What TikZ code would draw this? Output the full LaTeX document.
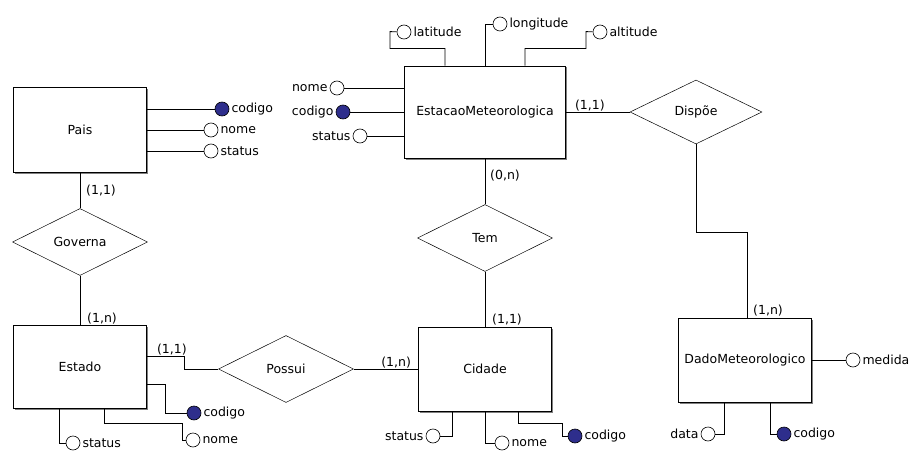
\documentclass[tikz,border=0pt]{standalone}
\usepackage{fontspec}
\setmainfont{DejaVu Sans}
\usetikzlibrary{calc, positioning}
\usetikzlibrary{shapes.geometric}
\usetikzlibrary{shadows}
\definecolor{chave}{RGB}{46,46,140}

\tikzset{
  entity/.style={draw, thick, fill=white, rectangle, minimum width=133pt, minimum height=84pt, inner sep=0pt,
    drop shadow={shadow xshift=1.5pt, shadow yshift=-1.5pt, fill=black, opacity=0.5}},
  relation/.style={draw, line width=0.5pt, diamond, aspect=2, minimum width=135pt, minimum height=67pt, inner sep=0pt},
  attr/.style={draw, circle, line width=0.6pt, minimum size=14pt, inner sep=0pt, fill=white},
  keyattr/.style={attr, fill=chave},
  lbl/.style={inner sep=1pt},
  card/.style={inner sep=1pt},
  link/.style={line width=0.8pt}
}

\begin{document}
\begin{tikzpicture}[x=1pt, y=-1pt, font=\fontsize{12.5}{14}\selectfont]
\useasboundingbox (0,0) rectangle (913,452);

% entidades
\node[entity, minimum height=85pt] (pais) at (80,130) {Pais};
\node[entity, minimum height=83pt] (estado) at (80,367) {Estado};
\node[entity] (cidade) at (485,369) {Cidade};
\node[entity, minimum width=161pt, minimum height=92pt] (estacao) at (485,112) {EstacaoMeteorologica};
\node[entity] (dado) at (745,360) {DadoMeteorologico};

% relacionamentos
\node[relation] (governa) at (80,242) {Governa};
\node[relation] (possui) at (286,369) {Possui};
\node[relation] (tem) at (485,238) {Tem};
\node[relation, minimum width=132pt, minimum height=64pt] (dispoe) at (696,112) {Disp\~oe};

% ligacoes
\draw[link] (pais) -- (governa);
\draw[link] (governa) -- (estado);
\draw[link] ([yshift=11pt]estado.east) -- ++(37,0) |- (possui.west);
\draw[link] (possui.east) -- (possui.east -| cidade.west);
\draw[link] (estacao) -- (tem);
\draw[link] (tem) -- (cidade);
\draw[link] (estacao.east) -- (dispoe.west);
\draw[link] (dispoe.south) -- ++(0,88) -| ([xshift=2pt]dado.north);

% cardinalidades
\node[card, anchor=west] at ([xshift=5pt, yshift=-18pt]pais.south) {(1,1)};
\node[card, anchor=south west] at ([xshift=6pt]estado.north) {(1,n)};
\node[card, anchor=south west] at ([xshift=9pt, yshift=11pt]estado.east) {(1,1)};
\node[card, anchor=south east] at ([xshift=-6pt]cidade.west) {(1,n)};
\node[card, anchor=west] at ([xshift=4pt, yshift=-17pt]estacao.south) {(0,n)};
\node[card, anchor=south west] at ([xshift=6pt]cidade.north) {(1,1)};
\node[card, anchor=south west] at ([xshift=8pt]estacao.east) {(1,1)};
\node[card, anchor=south west] at ([xshift=7pt]dado.north) {(1,n)};

% atributos de Pais
\node[keyattr] (pcod) at (222,109) {};
\node[attr] (pnom) at (211,130) {};
\node[attr] (psta) at (211,151) {};
\node[lbl, right=1pt of pcod] {codigo};
\node[lbl, right=1pt of pnom] {nome};
\node[lbl, right=1pt of psta] {status};
\draw[link] ([yshift=21pt]pais.east) -- (pcod);
\draw[link] (pais.east) -- (pnom);
\draw[link] ([yshift=-21pt]pais.east) -- (psta);

% atributos de EstacaoMeteorologica
\node[attr] (enom) at (337,88) {};
\node[keyattr] (ecod) at (343,112) {};
\node[attr] (esta) at (360,136) {};
\node[lbl, left=1pt of enom] {nome};
\node[lbl, left=1pt of ecod] {codigo};
\node[lbl, left=1pt of esta] {status};
\draw[link] ([yshift=24pt]estacao.west) -- (enom);
\draw[link] (estacao.west) -- (ecod);
\draw[link] ([yshift=-24pt]estacao.west) -- (esta);
\node[attr] (elat) at (404,32) {};
\node[attr] (elon) at (500,24) {};
\node[attr] (ealt) at (600,32) {};
\node[lbl, right=1pt of elat] {latitude};
\node[lbl, right=1pt of elon] {longitude};
\node[lbl, right=1pt of ealt] {altitude};
\draw[link] ([xshift=-40pt]estacao.north) -- ++(0,-17) -| ++(-55,-17) -- (elat);
\draw[link] (estacao.north) |- (elon);
\draw[link] ([xshift=40pt]estacao.north) -- ++(0,-17) -| ++(61,-17) -- (ealt);

% atributos de Estado
\node[keyattr] (stcod) at (194,413) {};
\node[attr] (stnom) at (193,440) {};
\node[attr] (ststa) at (73,443) {};
\node[lbl, right=1pt of stcod] {codigo};
\node[lbl, right=1pt of stnom] {nome};
\node[lbl, right=1pt of ststa] {status};
\draw[link] ([yshift=-17pt]estado.east) -| ++(18,29) -- (stcod);
\draw[link] ([xshift=24pt]estado.south) |- ++(78,14) |- (stnom);
\draw[link] ([xshift=-21pt]estado.south) |- (ststa);

% atributos de Cidade
\node[attr] (csta) at (433,436) {};
\node[attr] (cnom) at (502,443) {};
\node[keyattr] (ccod) at (575,436) {};
\node[lbl, left=1pt of csta] {status};
\node[lbl, right=1pt of cnom] {nome};
\node[lbl, right=1pt of ccod] {codigo};
\draw[link] ([xshift=-33pt]cidade.south) |- (csta);
\draw[link] (cidade.south) |- (cnom);
\draw[link] ([xshift=33pt]cidade.south) |- ++(44,12) |- (ccod);

% atributos de DadoMeteorologico
\node[attr] (dmed) at (853,360) {};
\node[attr] (ddat) at (708,434) {};
\node[keyattr] (dcod) at (784,434) {};
\node[lbl, right=1pt of dmed] {medida};
\node[lbl, left=1pt of ddat] {data};
\node[lbl, right=1pt of dcod] {codigo};
\draw[link] (dado.east) -- (dmed);
\draw[link] ([xshift=-21pt]dado.south) |- (ddat);
\draw[link] ([xshift=25pt]dado.south) |- (dcod);
\end{tikzpicture}
\end{document}
